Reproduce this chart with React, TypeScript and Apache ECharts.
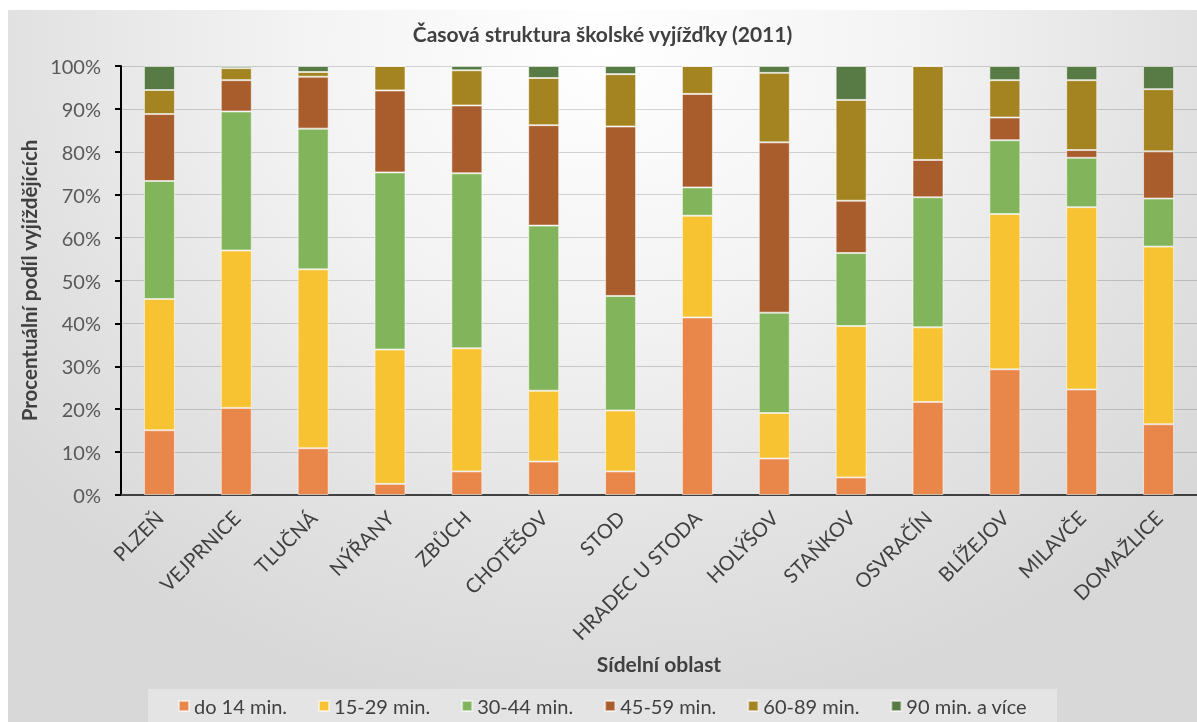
import React, { useEffect, useRef } from "react";
import * as echarts from "echarts";

const categories = [
  "PLZEŇ", "VEJPRNICE", "TLUČNÁ", "NÝŘANY", "ZBŮCH", "CHOTĚŠOV", "STOD",
  "HRADEC U STODA", "HOLÝŠOV", "STAŇKOV", "OSVRAČÍN", "BLÍŽEJOV", "MILAVČE", "DOMAŽLICE",
];

const seriesNames = ["do 14 min.", "15-29 min.", "30-44 min.", "45-59 min.", "60-89 min.", "90 min. a více"];

const do14 = [15.1, 20.3, 10.9, 2.6, 5.5, 7.8, 5.5, 41.4, 8.5, 4.1, 21.7, 29.3, 24.6, 16.5];
const m15_29 = [30.6, 36.7, 41.7, 31.3, 28.7, 16.5, 14.2, 23.7, 10.6, 35.3, 17.4, 36.2, 42.5, 41.4];
const m30_44 = [27.5, 32.4, 32.8, 41.3, 40.8, 38.5, 26.7, 6.6, 23.4, 17.0, 30.3, 17.2, 11.5, 11.2];
const m45_59 = [15.6, 7.3, 12.1, 19.1, 15.8, 23.4, 39.5, 21.8, 39.7, 12.2, 8.7, 5.3, 1.8, 11.0];
const m60_89 = [5.6, 2.8, 1.1, 5.7, 8.2, 11.0, 12.2, 6.5, 16.2, 23.5, 21.9, 8.7, 16.3, 14.5];
const m90plus = [5.6, 0.5, 1.4, 0, 1.0, 2.8, 1.9, 0, 1.6, 7.9, 0, 3.3, 3.3, 5.4];

const yTicks = [0, 10, 20, 30, 40, 50, 60, 70, 80, 90, 100];

const colors = ["#E9874B", "#F8C332", "#82B55B", "#A95D2D", "#A38421", "#587A44"];

const FONT = "Lato, 'Open Sans', sans-serif";

export default function App() {
  const ref = useRef<HTMLDivElement>(null);

  useEffect(() => {
    if (!ref.current) return;
    const chart = echarts.init(ref.current, null, { renderer: "svg" });
    const allData = [do14, m15_29, m30_44, m45_59, m60_89, m90plus];
    chart.setOption({
      animation: false,
      backgroundColor: "transparent",
      textStyle: { fontFamily: FONT },
      title: {
        text: "Časová struktura školské vyjížďky (2011)",
        left: "center",
        top: 8,
        textStyle: { fontFamily: FONT, fontSize: 21, fontWeight: "bold", color: "#404040" },
      },
      legend: {
        data: seriesNames,
        left: "center",
        top: 679,
        padding: [7, 30, 14, 30],
        itemGap: 31,
        itemWidth: 10,
        itemHeight: 10,
        icon: "rect",
        backgroundColor: "rgba(255,255,255,0.3)",
        textStyle: { fontFamily: FONT, fontSize: 20, color: "#404040" },
      },
      grid: { left: 113, right: 0, top: 56, bottom: 227, containLabel: false },
      xAxis: {
        type: "category",
        data: categories,
        name: "Sídelní oblast",
        nameLocation: "middle",
        nameGap: 158,
        nameTextStyle: { fontFamily: FONT, fontSize: 21, fontWeight: "bold", color: "#404040" },
        axisLine: { lineStyle: { color: "#404040", width: 2 } },
        axisTick: { show: false },
        axisLabel: { rotate: 45, fontSize: 20, color: "#404040", margin: 19, interval: 0, fontFamily: FONT },
      },
      yAxis: {
        type: "value",
        min: yTicks[0],
        max: yTicks[yTicks.length - 1],
        interval: 10,
        name: "Procentuální podíl vyjíždějících",
        nameLocation: "middle",
        nameGap: 70,
        nameTextStyle: { fontFamily: FONT, fontSize: 20.5, fontWeight: "bold", color: "#404040" },
        axisLine: { show: true, lineStyle: { color: "#000000", width: 2 } },
        axisTick: { show: true, length: 6, lineStyle: { color: "#000000", width: 2 } },
        axisLabel: { formatter: "{value}%", fontSize: 20, color: "#595959", margin: 20, fontFamily: FONT },
        splitLine: { lineStyle: { color: "rgba(0,0,0,0.16)", width: 1 } },
      },
      series: seriesNames.map((name, i) => ({
        name,
        type: "bar",
        stack: "total",
        barWidth: 31,
        data: allData[i],
        itemStyle: { color: colors[i], borderColor: "rgba(255,255,255,0.55)", borderWidth: 1 },
      })),
    });
    return () => chart.dispose();
  }, []);

  return (
    <div
      ref={ref}
      style={{
        position: "fixed",
        left: 8,
        top: 10,
        width: 1189,
        height: 712,
        background:
          "radial-gradient(ellipse 65% 95% at 50% 5%, #ffffff 0%, #f3f3f3 40%, #e2e2e2 75%, #d8d8d8 100%)",
      }}
    />
  );
}
